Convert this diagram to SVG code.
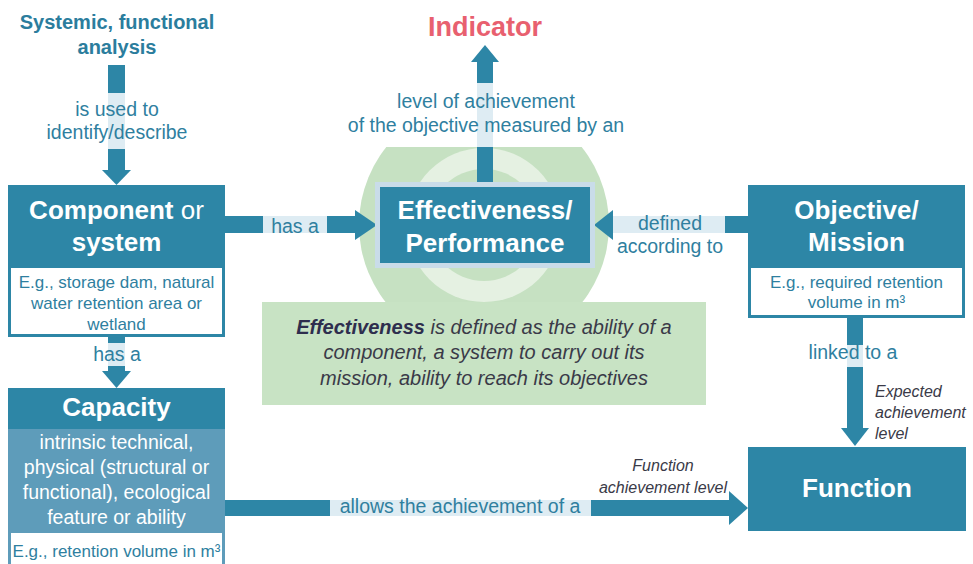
<svg xmlns="http://www.w3.org/2000/svg" width="973" height="564" viewBox="0 0 973 564">
<defs>
<style>
.bar{fill:#2d86a6}
.pale{fill:#deecf3}
.box{fill:#2d86a6}
.t{font-family:"Liberation Sans",Arial,sans-serif}
.hd{font-family:"Liberation Sans",Arial,sans-serif;font-weight:bold;fill:#ffffff;text-anchor:middle;font-size:26px}
.lbl{font-family:"Liberation Sans",Arial,sans-serif;fill:#2f7f9f;font-size:19.5px;text-anchor:middle}
.eg{font-family:"Liberation Sans",Arial,sans-serif;fill:#2f7f9f;font-size:17px;text-anchor:middle}
.it{font-family:"Liberation Sans",Arial,sans-serif;fill:#3a3a48;font-style:italic;font-size:16px}
</style>
<clipPath id="circClip"><rect x="300" y="147" width="380" height="155"/></clipPath>
</defs>
<rect width="973" height="564" fill="#ffffff"/>

<g id="bg-circles" clip-path="url(#circClip)">
<circle cx="484" cy="225" r="125" fill="#c6e1c2"/>
<circle cx="484" cy="225" r="77" fill="#e5f1e2"/>
<circle cx="484" cy="225" r="56" fill="#c6e1c2"/>
</g>

<g id="connectors">
<!-- analysis -> component -->
<rect class="bar" x="108" y="65" width="17" height="28"/>
<rect class="pale" x="108" y="93" width="17" height="56"/>
<rect class="bar" x="108" y="149" width="17" height="22"/>
<polygon class="bar" points="102,170 131,170 116.5,185"/>
<!-- effectiveness -> indicator -->
<polygon class="bar" points="471,62 499,62 485,45"/>
<rect class="bar" x="477" y="62" width="16" height="21"/>
<rect class="pale" x="477" y="83" width="16" height="64"/>
<rect class="bar" x="477" y="147" width="16" height="35"/>
<!-- component -> effectiveness -->
<rect class="bar" x="225" y="216" width="38" height="17"/>
<rect class="pale" x="263" y="216" width="64" height="17"/>
<rect class="bar" x="327" y="216" width="30" height="17"/>
<polygon class="bar" points="355,210 355,240 377,225"/>
<!-- objective -> effectiveness -->
<polygon class="bar" points="613,210 613,240 594,225"/>
<rect class="pale" x="613" y="216" width="112" height="17"/>
<rect class="bar" x="725" y="216" width="23" height="17"/>
<!-- component -> capacity -->
<rect class="bar" x="108" y="337" width="17" height="6"/>
<rect class="pale" x="108" y="343" width="17" height="23"/>
<rect class="bar" x="108" y="366" width="17" height="6"/>
<polygon class="bar" points="102,371 131,371 116.5,388"/>
<!-- objective -> function -->
<rect class="bar" x="847" y="318" width="16" height="27"/>
<rect class="pale" x="847" y="345" width="16" height="22"/>
<rect class="bar" x="847" y="367" width="16" height="62"/>
<polygon class="bar" points="841,428 869,428 855,446"/>
<!-- capacity -> function -->
<rect class="bar" x="225" y="500" width="105" height="16"/>
<rect class="pale" x="330" y="500" width="261" height="16"/>
<rect class="bar" x="591" y="500" width="139" height="16"/>
<polygon class="bar" points="729,491 729,525 748,508"/>
</g>

<g id="connector-labels">
<text class="lbl" x="117" y="116">is used to</text>
<text class="lbl" x="117" y="139">identify/describe</text>
<text class="lbl" x="486" y="108" font-size="20">level of achievement</text>
<text class="lbl" x="486" y="132" font-size="20">of the objective measured by an</text>
<text class="lbl" x="295" y="233">has a</text>
<text class="lbl" x="670" y="230">defined</text>
<text class="lbl" x="670" y="253">according to</text>
<text class="lbl" x="117" y="361">has a</text>
<text class="lbl" x="853" y="359">linked to a</text>
<text class="it" x="875" y="397">Expected</text>
<text class="it" x="875" y="418">achievement</text>
<text class="it" x="875" y="439">level</text>
<text class="it" x="663" y="471" text-anchor="middle">Function</text>
<text class="it" x="663" y="493" text-anchor="middle">achievement level</text>
<text class="lbl" x="460" y="513" font-size="20.5">allows the achievement of a</text>
</g>

<g id="analysis">
<text class="t" x="117" y="29" text-anchor="middle" font-size="20" font-weight="bold" fill="#2b7d9d">Systemic, functional</text>
<text class="t" x="117" y="54" text-anchor="middle" font-size="20" font-weight="bold" fill="#2b7d9d">analysis</text>
</g>

<g id="indicator">
<text class="t" x="485" y="36" text-anchor="middle" font-size="27" font-weight="bold" fill="#e8606f">Indicator</text>
</g>

<g id="component">
<rect class="box" x="8" y="185" width="217" height="152"/>
<rect x="11" y="268" width="211" height="66" fill="#ffffff"/>
<text class="hd" x="116.5" y="219">Component<tspan font-weight="normal"> or</tspan></text>
<text class="hd" x="116.5" y="251">system</text>
<text class="eg" x="116.5" y="288">E.g., storage dam, natural</text>
<text class="eg" x="116.5" y="309">water retention area or</text>
<text class="eg" x="116.5" y="330">wetland</text>
</g>

<g id="effectiveness">
<rect x="375" y="182" width="220" height="86" fill="#c9dce9"/>
<rect class="box" x="380" y="187" width="210" height="76"/>
<text class="hd" x="485" y="219">Effectiveness/</text>
<text class="hd" x="485" y="252">Performance</text>
</g>

<g id="objective">
<rect class="box" x="748" y="185" width="217" height="133"/>
<rect x="751" y="268" width="211" height="47" fill="#ffffff"/>
<text class="hd" x="856.5" y="219">Objective/</text>
<text class="hd" x="856.5" y="251">Mission</text>
<text class="eg" x="856.5" y="288">E.g., required retention</text>
<text class="eg" x="856.5" y="308">volume in m³</text>
</g>

<g id="definition">
<rect x="262" y="302" width="444" height="103" fill="#c8e3c4"/>
<text class="t" x="484" y="334" text-anchor="middle" font-size="20" font-style="italic" fill="#3a3a48"><tspan font-weight="bold" fill="#2e2e4e">Effectiveness</tspan> is defined as the ability of a</text>
<text class="t" x="484" y="359" text-anchor="middle" font-size="20" font-style="italic" fill="#3a3a48">component, a system to carry out its</text>
<text class="t" x="484" y="385" text-anchor="middle" font-size="20" font-style="italic" fill="#3a3a48">mission, ability to reach its objectives</text>
</g>

<g id="capacity">
<rect class="box" x="8" y="388" width="217" height="41"/>
<rect x="8" y="429" width="217" height="135" fill="#5e9cba"/>
<rect x="11" y="533" width="211" height="31" fill="#ffffff"/>
<text class="hd" x="116.5" y="416">Capacity</text>
<text class="t" x="116.5" y="449" text-anchor="middle" font-size="19.5" fill="#ffffff">intrinsic technical,</text>
<text class="t" x="116.5" y="474" text-anchor="middle" font-size="19.5" fill="#ffffff">physical (structural or</text>
<text class="t" x="116.5" y="499" text-anchor="middle" font-size="19.5" fill="#ffffff">functional), ecological</text>
<text class="t" x="116.5" y="524" text-anchor="middle" font-size="19.5" fill="#ffffff">feature or ability</text>
<text class="eg" x="116.5" y="557">E.g., retention volume in m³</text>
</g>

<g id="function">
<rect class="box" x="748" y="447" width="218" height="84"/>
<text class="hd" x="857" y="497">Function</text>
</g>
</svg>
